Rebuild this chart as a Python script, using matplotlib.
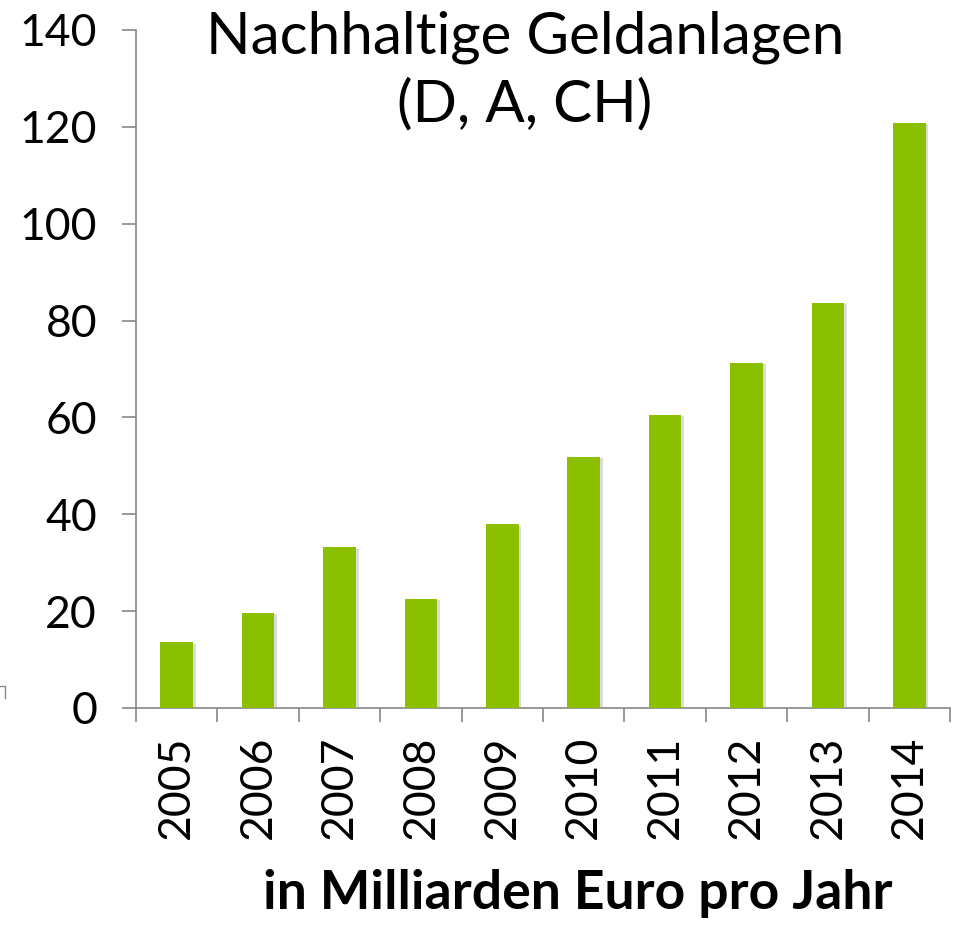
import matplotlib
matplotlib.use('Agg')
import matplotlib.pyplot as plt
import matplotlib.patheffects as pe
from matplotlib.lines import Line2D

DPI = 100

years = ['2005', '2006', '2007', '2008', '2009', '2010', '2011', '2012', '2013', '2014']
values = [13.6, 19.6, 33.2, 22.6, 37.9, 51.9, 60.6, 71.3, 83.7, 120.8]
yticks = [0, 20, 40, 60, 80, 100, 120, 140]

title = 'Nachhaltige Geldanlagen\n(D, A, CH)'
xlabel = 'in Milliarden Euro pro Jahr'

plt.rcParams['font.family'] = ['Lato', 'DejaVu Sans']

fig = plt.figure(figsize=(955/DPI, 926/DPI), dpi=DPI)
ax = fig.add_axes([136/955, 1 - 708/926, (950 - 136)/955, (708 - 30)/926])

x = list(range(len(years)))
bars = ax.bar(x, values, width=0.4, color='#8bc000', zorder=3)
for b in bars:
    b.set_path_effects([pe.SimplePatchShadow(offset=(2, -1), shadow_rgbFace='#999999', alpha=0.35),
                        pe.Normal()])

ax.set_xlim(-0.5, len(years) - 0.5)
ax.set_ylim(0, 140)
ax.set_yticks(yticks)
ax.set_yticklabels([str(v) for v in yticks], fontsize=32)

ax.set_xticks(x)
ax.set_xticklabels(years, rotation=90, fontsize=32, va='top')
ax.set_xticks([i - 0.5 for i in range(len(years) + 1)], minor=True)
ax.tick_params(axis='x', which='major', length=0, pad=20)
ax.tick_params(axis='x', which='minor', length=10, width=1.2, color='#888888', direction='out')
ax.tick_params(axis='y', length=10, width=1.2, color='#888888', pad=18)

for s in ['top', 'right']:
    ax.spines[s].set_visible(False)
for s in ['left', 'bottom']:
    ax.spines[s].set_color('#888888')
    ax.spines[s].set_linewidth(1.2)

fig.text(525/955, 1 - 71/926, title, ha='center', va='center', fontsize=42, linespacing=1.3)
fig.text(578/955, 1 - 893/926, xlabel, ha='center', va='center', fontsize=38.5, fontweight='bold')

# small artifact at left edge
fig.add_artist(Line2D([0, 5/955, 5/955], [1 - 686/926, 1 - 686/926, 1 - 698/926],
                      transform=fig.transFigure, color='#888888', lw=1))

fig.savefig('out.png', dpi=DPI)
